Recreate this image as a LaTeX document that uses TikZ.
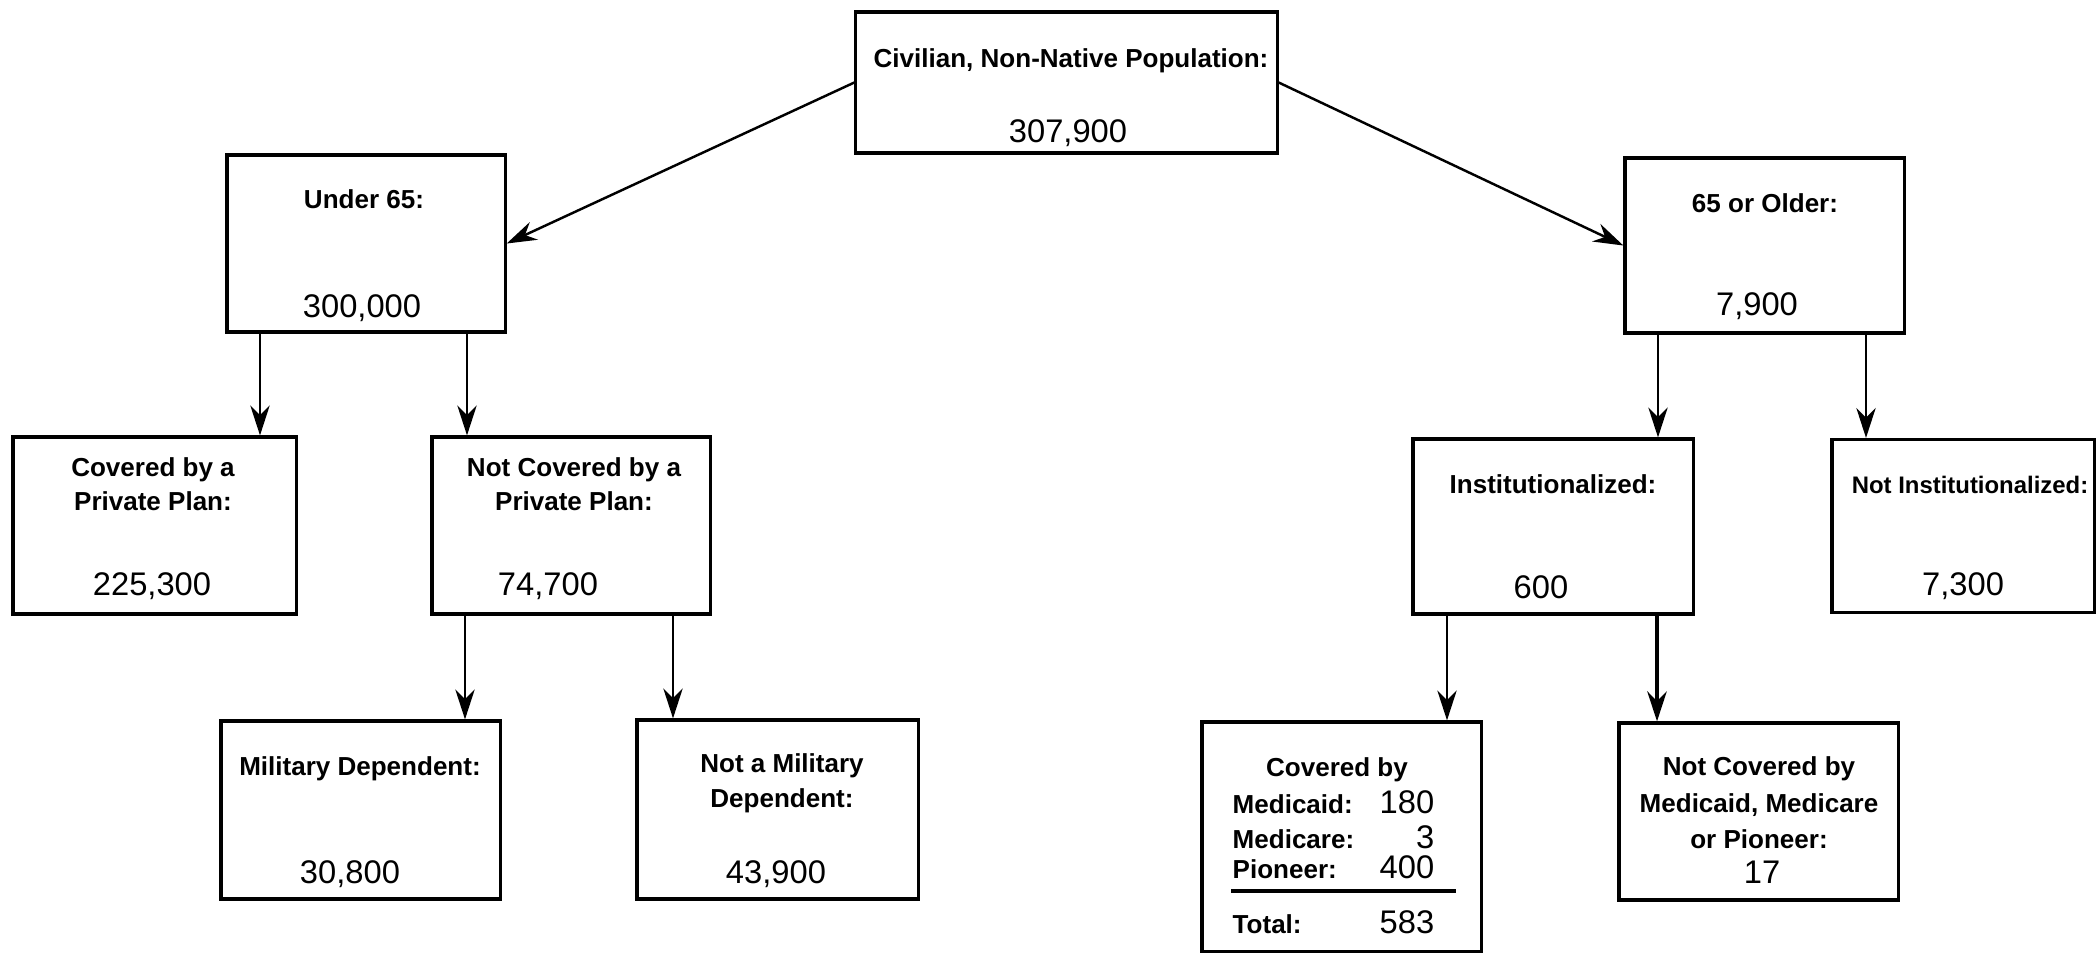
\documentclass[tikz,border=0pt]{standalone}
\usepackage{fontspec}
\setmainfont{Liberation Sans}
\usetikzlibrary{arrows.meta}
\tikzset{
  box/.style={draw, line width=0.9pt, inner sep=0pt, minimum width=2.79cm, minimum height=1.77cm},
  lbl/.style={font=\bfseries\fontsize{7.4}{8}\selectfont, anchor=base, inner sep=0pt, align=center},
  num/.style={font=\fontsize{9.3}{10}\selectfont, anchor=base, inner sep=0pt},
  arr/.style={-{Stealth[length=8.5pt,width=5.5pt]}, line width=0.7pt}
}
\begin{document}
\begin{tikzpicture}[x=0.01cm, y=-0.01cm]
\useasboundingbox (0,0) rectangle (2097,953);
% boxes
\node[box, minimum width=4.21cm, minimum height=1.41cm] (pop) at (1066.5,82.5) {};
\node[box, minimum width=2.78cm] (under) at (366,243.5) {};
\node[box, minimum height=1.75cm] (older) at (1764.5,245.5) {};
\node[box, minimum width=2.83cm] (cov) at (154.5,525.5) {};
\node[box, minimum width=2.78cm] (notcov) at (571,525.5) {};
\node[box, minimum width=2.80cm, minimum height=1.75cm] (inst) at (1553,526.5) {};
\node[box, minimum width=2.62cm, minimum height=1.73cm] (notinst) at (1963,526) {};
\node[box, minimum height=1.78cm] (mil) at (360.5,810) {};
\node[box, minimum width=2.81cm, minimum height=1.79cm] (notmil) at (777.5,809.5) {};
\node[box, minimum height=2.29cm] (covmed) at (1341.5,836.5) {};
\node[box] (notcovmed) at (1758.5,811.5) {};
% texts (multi-line ones sit on their last line)
\node[lbl] (popL) at (1071,67) {Civilian, Non-Native Population:};
\node[num] (popN) at (1068,142) {307,900};
\node[lbl] (underL) at (364,208) {Under 65:};
\node[num] (underN) at (362,317) {300,000};
\node[lbl] (olderL) at (1765,212) {65 or Older:};
\node[num] (olderN) at (1757,315) {7,900};
\node[lbl] (covL) at (153,510) {Covered by a\\[1.5pt]Private Plan:};
\node[num] (covN) at (152,595) {225,300};
\node[lbl] (notcovL) at (574,510) {Not Covered by a\\[1.5pt]Private Plan:};
\node[num] (notcovN) at (548,595) {74,700};
\node[lbl] (instL) at (1553,493) {Institutionalized:};
\node[num] (instN) at (1541,598) {600};
\node[lbl, font=\bfseries\fontsize{6.8}{8}\selectfont] (notinstL) at (1970,493) {Not Institutionalized:};
\node[num] (notinstN) at (1963,595) {7,300};
\node[lbl] (milL) at (360,775) {Military Dependent:};
\node[num] (milN) at (350,883) {30,800};
\node[lbl] (notmilL) at (782,807) {Not a Military\\[1.7pt]Dependent:};
\node[num] (notmilN) at (776,883) {43,900};
\node[lbl] (notcovmedL) at (1759,848) {Not Covered by\\[2.5pt]Medicaid, Medicare\\[2.2pt]or Pioneer:};
\node[num] (notcovmedN) at (1762,883) {17};
% covered by medicaid table
\node[lbl] (covmedT) at (1337,776) {Covered by};
\node[lbl, anchor=base west] (mcaidL) at (1232,813) {Medicaid:};
\node[num, anchor=base east] (mcaidN) at (1435,813) {180};
\node[lbl, anchor=base west] (mcareL) at (1232,848) {Medicare:};
\node[num, anchor=base east] (mcareN) at (1435,848) {3};
\node[lbl, anchor=base west] (pionL) at (1232,878) {Pioneer:};
\node[num, anchor=base east] (pionN) at (1435,878) {400};
\draw[line width=0.9pt] (1231,891) -- (1456,891);
\node[lbl, anchor=base west] (totL) at (1232,933) {Total:};
\node[num, anchor=base east] (totN) at (1435,933) {583};
% arrows
\draw[arr] (pop.west) -- (under.east);
\draw[arr] (pop.east) -- (older.west);
\draw[arr] (260,0 |- under.south) -- (260,0 |- cov.north);
\draw[arr] (467,0 |- under.south) -- (467,0 |- notcov.north);
\draw[arr] (465,0 |- notcov.south) -- (465,0 |- mil.north);
\draw[arr] (673,0 |- notcov.south) -- (673,0 |- notmil.north);
\draw[arr] (1658,0 |- older.south) -- (1658,0 |- inst.north);
\draw[arr] (1866,0 |- older.south) -- (1866,0 |- notinst.north);
\draw[arr] (1447,0 |- inst.south) -- (1447,0 |- covmed.north);
\draw[arr, line width=1.2pt] (1657,0 |- inst.south) -- (1657,0 |- notcovmed.north);
\end{tikzpicture}
\end{document}
